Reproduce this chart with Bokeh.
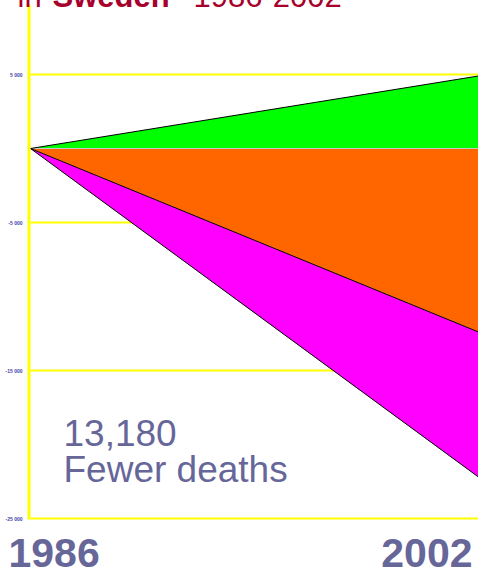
from bokeh.plotting import figure
from bokeh.models import Label, Range1d
from bokeh.embed import file_html
from bokeh.resources import INLINE

# ---- data ----
years = [1986, 2002]
increase = [0, 4900]        # green band (top)
decrease_a = [0, -12400]    # orange band
decrease_b = [0, -22200]    # magenta band (bottom edge)
zero = [0, 0]
y_ticks = [5000, -5000, -15000, -25000]
y_tick_labels = ["5 000", "-5 000", "-15 000", "-25 000"]
note_number = "13,180"
note_text = "Fewer deaths"
title_parts = ["in ", "Sweden", " 1986-2002"]

FONT = "Liberation Sans"
PURPLE = "#666699"
RED = "#A8002C"
YELLOW = "#FFFF00"

# ---- layout (screen geometry) ----
W, H = 478, 593          # figure pulled up 20px so the title is cut at the top
TOP = -20                # page y of the figure top
ZERO_PX = 148            # page y of the value 0
PX_PER_UNIT = 148 / 10000
X0_PX, X1_PX = 30, 478   # page x of first / last year


def yv(page_y):
    return (ZERO_PX - page_y) / PX_PER_UNIT


px_per_year = (X1_PX - X0_PX) / (years[1] - years[0])
x_start = years[0] - X0_PX / px_per_year

p = figure(width=W, height=H, output_backend="svg", toolbar_location=None,
           x_range=Range1d(x_start, years[1]), y_range=Range1d(yv(TOP + H), yv(TOP)),
           min_border=0, x_axis_location=None, y_axis_location=None,
           outline_line_color=None, styles={"margin-top": f"{TOP}px", "margin-bottom": f"{TOP}px"})
p.xgrid.visible = False
p.ygrid.visible = False

# grid lines (yellow, from the axis to the right edge)
n = len(y_ticks)
p.segment(x0=[years[0]] * n, x1=[years[1]] * n, y0=y_ticks, y1=y_ticks,
          line_color=YELLOW, line_width=2)

# bands
p.varea(x=years, y1=zero, y2=increase, fill_color="#00FF00")
p.varea(x=years, y1=zero, y2=decrease_a, fill_color="#FF6600")
p.varea(x=years, y1=decrease_a, y2=decrease_b, fill_color="#FF00FF")
p.line(years, zero, line_color="#C8C8C8", line_width=1)
p.line(years, increase, line_color="black", line_width=1)
p.line(years, decrease_a, line_color="black", line_width=1)
p.line(years, decrease_b, line_color="black", line_width=1)

# y axis line
axis_x = years[0] - 1.5 / px_per_year
p.segment(x0=[axis_x], x1=[axis_x], y0=[y_ticks[-1] - 1 / PX_PER_UNIT], y1=[yv(4)],
          line_color=YELLOW, line_width=3)

# y tick labels (tiny)
p.text(x=[years[0]] * n, y=y_ticks, text=y_tick_labels, x_offset=-8,
       text_align="right", text_baseline="middle", text_font_size="5px",
       text_font_style="bold", text_color="#4444AA", text_font={"value": FONT})


def label(txt, x, dx, base_px, size, style="normal", color=PURPLE, align="left"):
    # Bokeh draws the alphabetic baseline ~0.4em lower than the anchor
    p.add_layout(Label(x=x, y=yv(base_px - 0.4 * size), x_offset=dx, text=txt,
                       text_font=FONT, text_font_size=f"{size}px", text_font_style=style,
                       text_color=color, text_baseline="alphabetic", text_align=align))


# title (cut off at the top of the page)
for txt, dx, st in zip(title_parts, [-13, 22, 163], ["normal", "bold", "normal"]):
    label(txt, years[0], dx, 8, 31, st, RED)

# year labels
label(str(years[0]), years[0], -22, 569, 41, "bold")
label(str(years[1]), years[1], -6, 569, 41, "bold", align="right")

# note
label(note_number, years[0], 33, 447, 37)
label(note_text, years[0], 33, 484, 37)

open("out.html", "w").write(file_html(p, INLINE))
